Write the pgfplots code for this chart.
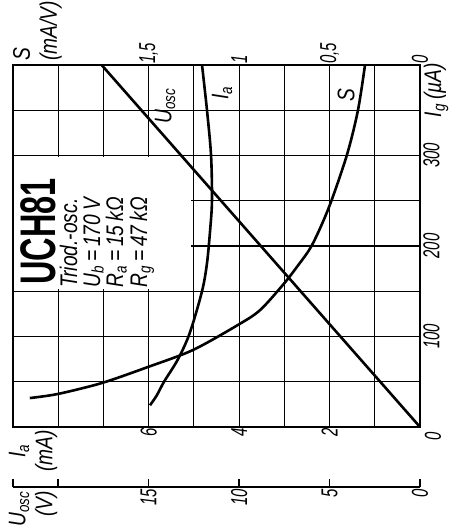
\documentclass[border=0pt]{standalone}
\usepackage{pgfplots}
\pgfplotsset{compat=1.18}
\usepackage{fontspec}
\setmainfont{Liberation Sans}
\newfontfamily\tickf{Liberation Sans}[FakeStretch=0.65]
\newfontfamily\txtf{Liberation Sans}[FakeStretch=0.8]
\newfontfamily\bigf{Liberation Sans}[FakeStretch=0.65]
\newcommand{\tk}{\tickf\itshape\fontsize{23}{26}\selectfont}
\newcommand{\tx}{\txtf\itshape\fontsize{24}{27}\selectfont}
\newcommand{\sub}[1]{\textsubscript{#1}}

\begin{document}
\begin{tikzpicture}
\useasboundingbox (-13pt,-102pt) rectangle (440pt,427pt);
\pgfplotsset{
  panel/.style={at={(0pt,0pt)}, anchor=south west, scale only axis,
    width=407pt, height=362pt, x dir=reverse, ymin=0, ymax=400, clip=false},
  curve/.style={black, line width=2.6pt, line join=round, smooth},
}

% I_a scale, grid and box
\begin{axis}[panel, xmin=0, xmax=9,
  xtick={0,...,9}, xticklabels={,,2,,4,,6,,,},
  ytick={0,50,...,400}, yticklabels={,,100,,200,,300,,},
  yticklabel pos=right,
  grid=major, grid style={black, line width=1.1pt},
  axis line style={line width=1.8pt},
  major tick length=0pt,
  xticklabel style={rotate=90, anchor=east, font=\tk, inner sep=1pt},
  yticklabel style={rotate=90, anchor=north, font=\tk, inner sep=3pt},
]
% blank field for the type data
\fill[white] (axis cs:5.07,152) rectangle (axis cs:8.97,298);
\addplot[curve] coordinates {
(5.97,24) (5.82,35) (5.66,50) (5.35,75) (5.09,104) (4.82,150)
(4.71,181) (4.64,218) (4.60,250) (4.62,300) (4.71,350) (4.82,400)};
\end{axis}

% S scale (top)
\begin{axis}[panel, xmin=0, xmax=2.25,
  axis line style={draw=none}, ytick=\empty,
  xtick={0,0.5,1,1.5}, xticklabels={0,{0,5},1,{1,5}},
  xticklabel pos=upper, major tick length=0pt,
  xticklabel style={rotate=90, anchor=west, font=\tk, inner sep=1pt},
]
\addplot[curve] coordinates {
(2.157,32) (2.002,36.5) (1.759,48.6) (1.504,66.3) (1.256,85)
(1.007,112.7) (0.885,129) (0.758,157) (0.680,177) (0.597,201)
(0.503,243) (0.404,300.6) (0.343,350) (0.304,400)};
\end{axis}

% U_osc curve
\begin{axis}[panel, xmin=0, xmax=22.5, hide axis]
\addplot[black, line width=2.6pt] coordinates {(0,0) (17.6,400)};
\end{axis}

% U_osc scale (below)
\begin{axis}[at={(0pt,-60pt)}, anchor=south west, scale only axis,
  width=407pt, height=20pt, x dir=reverse,
  xmin=0, xmax=22.5, ymin=0, ymax=1,
  axis x line*=bottom, axis y line=none,
  x axis line style={-, line width=1.8pt},
  xtick={0,5,10,15,20,22.5}, xticklabels={0,5,10,15,,},
  tick align=inside, major tick length=8pt,
  major tick style={black, line width=1.5pt},
  xticklabel style={rotate=90, anchor=east, font=\tk, inner sep=2pt},
]
\end{axis}

% axis names
\node[rotate=90, anchor=north west, align=left, inner sep=0pt, font=\tx]
  at (0pt,366pt) {S\\(mA/V)};
\node[rotate=90, align=center, inner sep=0pt, font=\tx]
  at (20pt,-24pt) {I\sub{a}\\(mA)};
\node[rotate=90, anchor=east, align=right, inner sep=0pt, font=\tx]
  at (20pt,-64pt) {U\sub{osc}\\(V)};
\node[rotate=90, anchor=east, inner sep=0pt, font=\tx]
  at (423pt,364pt) {I\sub{g}\,(µA)};
\node[rotate=90, inner sep=0pt, font=\tk] at (420pt,-9pt) {0};

% type box
\node[rotate=90, anchor=base west, inner sep=0pt,
  font=\bigf\bfseries\fontsize{50}{54}\selectfont] at (42pt,142pt) {UCH81};
\node[rotate=90, anchor=base west, inner sep=0pt, font=\tx] at (64pt,139pt) {Triod.-osc.};
\node[rotate=90, anchor=base west, inner sep=0pt, font=\tx] at (87pt,139pt) {U\sub{b}\,=\,170\,V};
\node[rotate=90, anchor=base west, inner sep=0pt, font=\tx] at (110pt,139pt) {R\sub{a}\,=\,15\,kΩ};
\node[rotate=90, anchor=base west, inner sep=0pt, font=\tx] at (134pt,139pt) {R\sub{g}\,=\,47\,kΩ};

% curve names
\node[rotate=90, inner sep=0pt, font=\tx] at (152pt,321pt) {U\sub{osc}};
\node[rotate=90, inner sep=0pt, font=\tx] at (209pt,334pt) {I\sub{a}};
\node[rotate=90, inner sep=0pt, font=\tx] at (333pt,332pt) {S};
\end{tikzpicture}
\end{document}
